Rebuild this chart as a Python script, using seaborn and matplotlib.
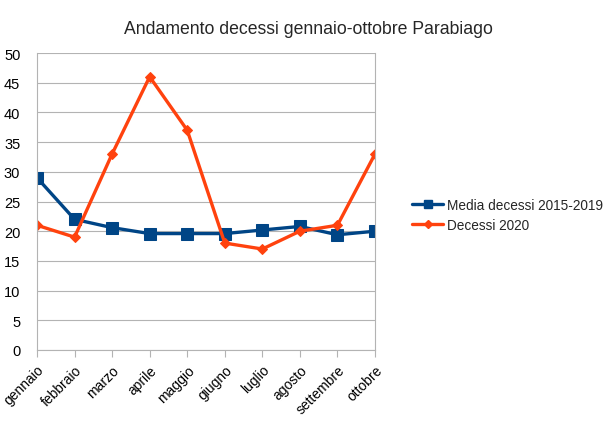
import matplotlib
matplotlib.use("Agg")
import matplotlib.pyplot as plt
from matplotlib.lines import Line2D
import seaborn as sns
import pandas as pd

mesi = ["gennaio", "febbraio", "marzo", "aprile", "maggio", "giugno",
        "luglio", "agosto", "settembre", "ottobre"]
media_2015_2019 = [29, 22, 20.6, 19.6, 19.6, 19.6, 20.2, 20.8, 19.4, 20]
decessi_2020 = [21, 19, 33, 46, 37, 18, 17, 20, 21, 33]
y_ticks = [0, 5, 10, 15, 20, 25, 30, 35, 40, 45, 50]

sns.set_theme(style="white")
plt.rcParams['font.family'] = ['Liberation Sans', 'DejaVu Sans']

fig = plt.figure(figsize=(6.10, 4.31), dpi=100)
ax = fig.add_axes([37/610, 1-351/431, (375-37)/610, (351-54)/431])

x = list(range(len(mesi)))
df = pd.DataFrame({"x": x, "media": media_2015_2019, "d2020": decessi_2020})

BLUE = "#004586"
RED = "#ff420e"

sns.lineplot(data=df, x="x", y="media", ax=ax, color=BLUE, linewidth=2.4,
             marker="s", markersize=8, markeredgecolor=BLUE, legend=False)
sns.lineplot(data=df, x="x", y="d2020", ax=ax, color=RED, linewidth=2.4,
             marker="D", markersize=5.5, markeredgecolor=RED, legend=False)

ax.set_xlim(0, len(mesi) - 1)
ax.set_ylim(0, 50)
ax.set_yticks(y_ticks)
ax.set_yticklabels([str(v) for v in y_ticks], fontsize=10.5, color="#000000")
ax.set_xticks(x)
ax.set_xticklabels(mesi, rotation=45, ha="right", rotation_mode="anchor",
                   fontsize=10, color="#000000")
ax.set_xlabel("")
ax.set_ylabel("")
ax.grid(axis="y", color="#b3b3b3", linewidth=0.8)
ax.set_axisbelow(True)
for s in ["left", "right", "bottom"]:
    ax.spines[s].set_color("#b3b3b3")
    ax.spines[s].set_linewidth(0.8)
ax.spines["top"].set_visible(False)
ax.tick_params(axis="x", which="major", bottom=True, length=5, width=0.8,
               color="#b3b3b3", pad=4)
ax.tick_params(axis="y", which="major", left=False, pad=6)

handles = [
    Line2D([], [], color=BLUE, linewidth=2.4, marker="s", markersize=6,
           markeredgecolor=BLUE),
    Line2D([], [], color=RED, linewidth=2.4, marker="D", markersize=4,
           markeredgecolor=RED),
]
labels = ["Media decessi 2015-2019", "Decessi 2020"]
fig.legend(handles, labels, loc="center left", bbox_to_anchor=(412/610, 1-216/431),
           frameon=False, fontsize=9.8, handlelength=2.3, handletextpad=0.3,
           labelspacing=0.45, borderaxespad=0, borderpad=0)

fig.text(0.505, 1-30/431, "Andamento decessi gennaio-ottobre Parabiago",
         ha="center", va="center", fontsize=12.7)

fig.savefig("out.png", dpi=100)
